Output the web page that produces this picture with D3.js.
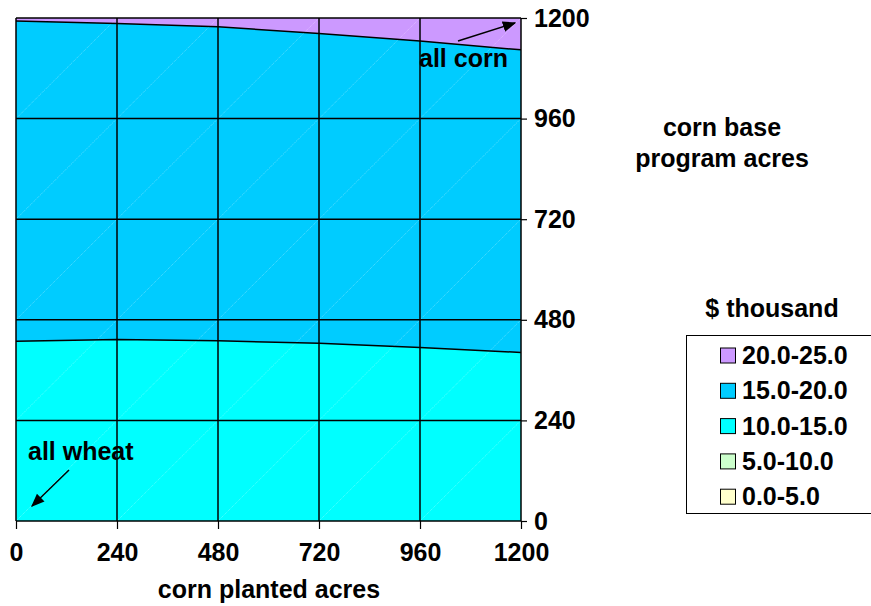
<!DOCTYPE html>
<html>
<head>
<meta charset="utf-8">
<script src="https://cdn.jsdelivr.net/npm/d3@7"></script>
<style>
body { margin: 0; background: #fff; }
text { font-family: "Liberation Sans", Arial, sans-serif; font-weight: bold; fill: #000; }
</style>
</head>
<body>
<script>
// corn planted acres (x categories)
var cornPlanted = [0, 240, 480, 720, 960, 1200];
// contour boundaries (corn base program acres)
var edge10to15 = [429, 433, 430, 424, 414, 402];
var edge15to20 = [1193, 1187, 1179, 1163, 1145, 1124];
var xTicks = [0, 240, 480, 720, 960, 1200];
var yTicks = [0, 240, 480, 720, 960, 1200];
var legendLabels = ["20.0-25.0", "15.0-20.0", "10.0-15.0", "5.0-10.0", "0.0-5.0"];
var legendColors = ["#CC99FF", "#00CCFF", "#00FFFF", "#CCFFCC", "#FFFFCC"];

var width = 871, height = 606;
var fs = "25px";
var svg = d3.select("body").append("svg")
    .attr("width", width)
    .attr("height", height);

var defs = svg.append("defs");
defs.append("marker")
    .attr("id", "arrow")
    .attr("viewBox", "0 0 10 10")
    .attr("refX", 9).attr("refY", 5)
    .attr("markerWidth", 9).attr("markerHeight", 9)
    .attr("orient", "auto")
    .append("path")
    .attr("d", "M0,1 L10,5 L0,9 Z")
    .attr("fill", "#000");

var x = d3.scaleLinear().domain([0, 1200]).range([16, 521]);
var y = d3.scaleLinear().domain([0, 1200]).range([521, 18]);

var plot = svg.append("g");

// top band (20-25)
plot.append("rect")
    .attr("x", x(0)).attr("y", y(1200))
    .attr("width", x(1200) - x(0)).attr("height", y(0) - y(1200))
    .attr("fill", legendColors[0]);

var area = function(vals) {
    return d3.area()
        .x(function(d, i) { return x(cornPlanted[i]); })
        .y0(y(0))
        .y1(function(d) { return y(d); })(vals);
};
var line = d3.line()
    .x(function(d, i) { return x(cornPlanted[i]); })
    .y(function(d) { return y(d); });

plot.append("path").attr("d", area(edge15to20)).attr("fill", legendColors[1]);
plot.append("path").attr("d", area(edge10to15)).attr("fill", legendColors[2]);

// faint surface diagonals
for (var i = 0; i < xTicks.length - 1; i++) {
    for (var j = 0; j < yTicks.length - 1; j++) {
        plot.append("line")
            .attr("x1", x(xTicks[i])).attr("y1", y(yTicks[j]))
            .attr("x2", x(xTicks[i + 1])).attr("y2", y(yTicks[j + 1]))
            .attr("stroke", "#fff")
            .attr("stroke-opacity", 0.35)
            .attr("stroke-width", 1)
            .attr("stroke-dasharray", "1,1");
    }
}

plot.append("path").attr("d", line(edge15to20)).attr("fill", "none").attr("stroke", "#000").attr("stroke-width", 1.5);
plot.append("path").attr("d", line(edge10to15)).attr("fill", "none").attr("stroke", "#000").attr("stroke-width", 1.5);

// grid
plot.selectAll(".vgrid").data(xTicks).enter().append("line")
    .attr("x1", function(d) { return x(d); }).attr("x2", function(d) { return x(d); })
    .attr("y1", y(0)).attr("y2", y(1200))
    .attr("stroke", "#000").attr("stroke-width", 1.5);
plot.selectAll(".hgrid").data(yTicks).enter().append("line")
    .attr("y1", function(d) { return y(d); }).attr("y2", function(d) { return y(d); })
    .attr("x1", x(0)).attr("x2", x(1200))
    .attr("stroke", "#000").attr("stroke-width", 1.5);

// axes
var xAxis = svg.append("g")
    .attr("transform", "translate(0," + y(0) + ")")
    .call(d3.axisBottom(x).tickValues(xTicks).tickFormat(d3.format("d")).tickSize(8).tickPadding(14));
var yAxis = svg.append("g")
    .attr("transform", "translate(" + x(1200) + ",0)")
    .call(d3.axisRight(y).tickValues(yTicks).tickFormat(d3.format("d")).tickSize(6).tickPadding(7));
[xAxis, yAxis].forEach(function(a) {
    a.select(".domain").remove();
    a.selectAll("line").attr("stroke", "#000").attr("stroke-width", 1.2);
    a.selectAll("text").attr("fill", "#000")
        .style("font-family", "Liberation Sans, Arial, sans-serif")
        .style("font-weight", "bold")
        .style("font-size", fs);
});

// titles
svg.append("text").attr("x", 269).attr("y", 598)
    .attr("text-anchor", "middle").style("font-size", fs).text("corn planted acres");
svg.append("text").attr("x", 722).attr("y", 136)
    .attr("text-anchor", "middle").style("font-size", fs).text("corn base");
svg.append("text").attr("x", 722).attr("y", 167)
    .attr("text-anchor", "middle").style("font-size", fs).text("program acres");

// annotations
svg.append("text").attr("x", 419).attr("y", 67).style("font-size", fs).text("all corn");
svg.append("line").attr("x1", 458).attr("y1", 41).attr("x2", 515).attr("y2", 23)
    .attr("stroke", "#000").attr("stroke-width", 1.5).attr("marker-end", "url(#arrow)");
svg.append("text").attr("x", 28).attr("y", 460).style("font-size", fs).text("all wheat");
svg.append("line").attr("x1", 69).attr("y1", 470).attr("x2", 32).attr("y2", 506)
    .attr("stroke", "#000").attr("stroke-width", 1.5).attr("marker-end", "url(#arrow)");

// legend
svg.append("text").attr("x", 772).attr("y", 317)
    .attr("text-anchor", "middle").style("font-size", fs).text("$ thousand");
svg.append("rect").attr("x", 686.5).attr("y", 335.5).attr("width", 190).attr("height", 178)
    .attr("fill", "#fff").attr("stroke", "#000").attr("stroke-width", 1);
var items = svg.selectAll(".leg").data(legendLabels).enter().append("g")
    .attr("transform", function(d, i) { return "translate(0," + (355.5 + i * 35.3) + ")"; });
items.append("rect")
    .attr("x", 720.5).attr("y", -7.5).attr("width", 15).attr("height", 15)
    .attr("fill", function(d, i) { return legendColors[i]; })
    .attr("stroke", "#000").attr("stroke-width", 1);
items.append("text").attr("x", 742).attr("y", 8.5)
    .style("font-size", fs).text(function(d) { return d; });
</script>
</body>
</html>
